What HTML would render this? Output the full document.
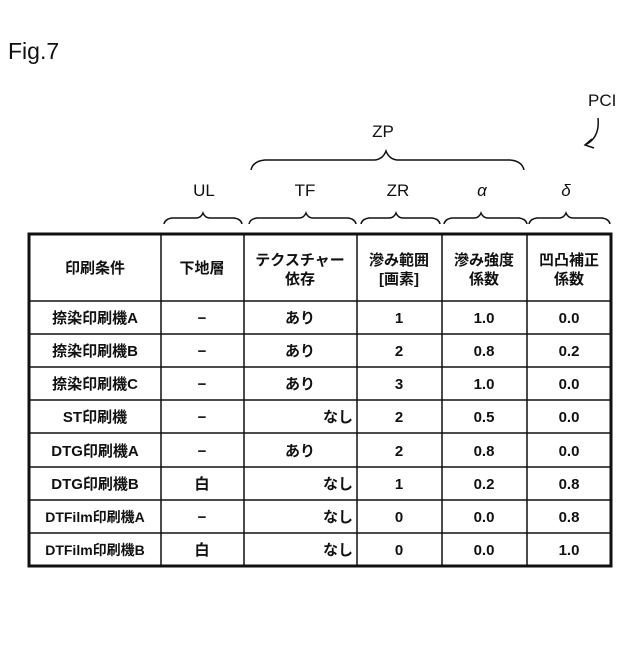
<!DOCTYPE html>
<html><head><meta charset="utf-8"><style>
body{margin:0;background:#fff;}
svg text{font-family:"Liberation Sans","Noto Sans CJK JP",sans-serif;fill:#111;}
.b{font-weight:bold;font-size:15px;}
</style></head><body>
<svg width="640" height="640" viewBox="0 0 640 640" xmlns="http://www.w3.org/2000/svg">
<text x="8" y="59" font-size="23">Fig.7</text>
<text x="588" y="106" font-size="17">PCI</text>
<path d="M598,118 Q600,138 585,145" fill="none" stroke="#111" stroke-width="1.5"/>
<path d="M592,139 L585,145 L594,148" fill="none" stroke="#111" stroke-width="1.5"/>
<text x="383" y="137" font-size="17" text-anchor="middle">ZP</text>
<g fill="none" stroke="#111" stroke-width="1.5">
<path d="M251,170 Q253,161 265,160 L375,160 Q383,159 386,151 Q389,159 397,160 L510,160 Q522,161 524,170"/>
<path d="M164,224 Q165,219 172,218 L196,218 Q201,218 203,213 Q205,218 210,218 L234,218 Q241,219 242,224"/>
<path d="M249,224 Q250,219 257,218 L299,218 Q304,218 306,213 Q308,218 313,218 L348,218 Q355,219 356,224"/>
<path d="M361,224 Q362,219 369,218 L389,218 Q394,218 396,213 Q398,218 403,218 L432,218 Q439,219 440,224"/>
<path d="M444,224 Q445,219 452,218 L474,218 Q479,218 481,213 Q483,218 488,218 L519,218 Q526,219 527,224"/>
<path d="M529,224 Q530,219 537,218 L559,218 Q564,218 566,213 Q568,218 573,218 L602,218 Q609,219 610,224"/>
</g>
<g font-size="17" text-anchor="middle">
<text x="204" y="196">UL</text><text x="305" y="196">TF</text><text x="398" y="196">ZR</text>
<text x="482" y="196" font-style="italic">α</text><text x="566" y="196" font-style="italic">δ</text>
</g>
<rect x="29" y="234" width="582" height="332" fill="none" stroke="#111" stroke-width="3"/>
<g stroke="#111" stroke-width="1.5">
<line x1="161" y1="234" x2="161" y2="566"/><line x1="244" y1="234" x2="244" y2="566"/>
<line x1="357" y1="234" x2="357" y2="566"/><line x1="442" y1="234" x2="442" y2="566"/>
<line x1="527" y1="234" x2="527" y2="566"/>
<line x1="29" y1="301" x2="611" y2="301"/><line x1="29" y1="334" x2="611" y2="334"/>
<line x1="29" y1="367" x2="611" y2="367"/><line x1="29" y1="400" x2="611" y2="400"/>
<line x1="29" y1="433" x2="611" y2="433"/><line x1="29" y1="467" x2="611" y2="467"/>
<line x1="29" y1="500" x2="611" y2="500"/><line x1="29" y1="533" x2="611" y2="533"/>
</g>
<g class="b" text-anchor="middle">
<text x="95" y="273">印刷条件</text><text x="202" y="273">下地層</text>
<text x="300" y="265">テクスチャー</text><text x="300" y="284">依存</text>
<text x="399" y="265">滲み範囲</text><text x="399" y="284">[画素]</text>
<text x="484" y="265">滲み強度</text><text x="484" y="284">係数</text>
<text x="569" y="265">凹凸補正</text><text x="569" y="284">係数</text>
</g>
<g class="b" text-anchor="middle">
<text x="95" y="323">捺染印刷機A</text><text x="95" y="356">捺染印刷機B</text><text x="95" y="389">捺染印刷機C</text>
<text x="95" y="422">ST印刷機</text><text x="95" y="456">DTG印刷機A</text><text x="95" y="489">DTG印刷機B</text>
<text x="95" y="522" font-size="14">DTFilm印刷機A</text><text x="95" y="555" font-size="14">DTFilm印刷機B</text>
<text x="202" y="323">−</text><text x="202" y="356">−</text><text x="202" y="389">−</text><text x="202" y="422">−</text>
<text x="202" y="456">−</text><text x="202" y="489">白</text><text x="202" y="522">−</text><text x="202" y="555">白</text>
<text x="300" y="323">あり</text><text x="300" y="356">あり</text><text x="300" y="389">あり</text>
<text x="300" y="456">あり</text>
<text x="399" y="323">1</text><text x="399" y="356">2</text><text x="399" y="389">3</text><text x="399" y="422">2</text>
<text x="399" y="456">2</text><text x="399" y="489">1</text><text x="399" y="522">0</text><text x="399" y="555">0</text>
<text x="484" y="323">1.0</text><text x="484" y="356">0.8</text><text x="484" y="389">1.0</text><text x="484" y="422">0.5</text>
<text x="484" y="456">0.8</text><text x="484" y="489">0.2</text><text x="484" y="522">0.0</text><text x="484" y="555">0.0</text>
<text x="569" y="323">0.0</text><text x="569" y="356">0.2</text><text x="569" y="389">0.0</text><text x="569" y="422">0.0</text>
<text x="569" y="456">0.0</text><text x="569" y="489">0.8</text><text x="569" y="522">0.8</text><text x="569" y="555">1.0</text>
</g>
<g class="b" text-anchor="end">
<text x="353" y="422">なし</text><text x="353" y="489">なし</text><text x="353" y="522">なし</text><text x="353" y="555">なし</text>
</g>
</svg>
</body></html>
